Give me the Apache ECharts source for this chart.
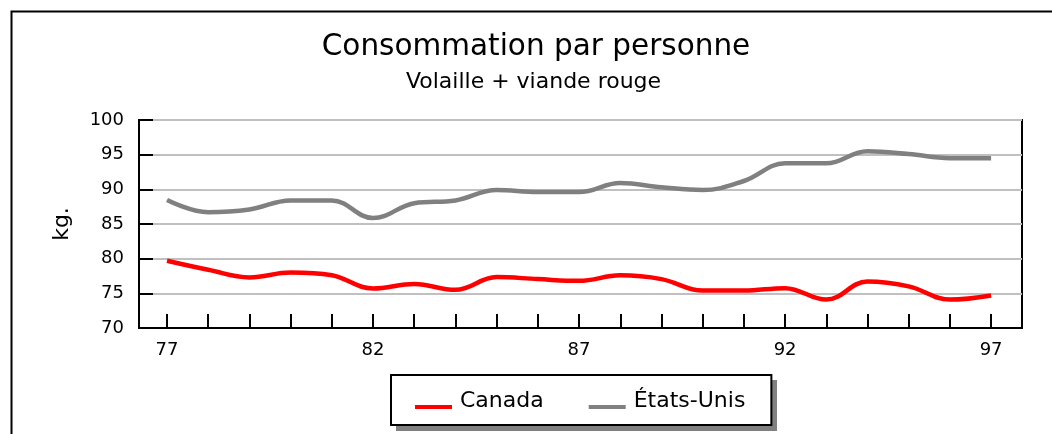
<!DOCTYPE html>
<html>
<head>
<meta charset="utf-8">
<script src="https://cdn.jsdelivr.net/npm/echarts@6/dist/echarts.min.js"></script>
<style>
html,body{margin:0;padding:0;background:#fff;}
#chart{width:1052px;height:434px;}
</style>
</head>
<body>
<div id="chart"></div>
<script>
const years = [77,78,79,80,81,82,83,84,85,86,87,88,89,90,91,92,93,94,95,96,97];
const canada = [79.7,78.4,77.3,78.0,77.6,75.7,76.35,75.5,77.35,77.05,76.8,77.6,77.05,75.4,75.4,75.75,74.1,76.7,76.0,74.1,74.7];
const etatsUnis = [88.45,86.7,87.1,88.4,88.4,85.85,88.0,88.4,89.9,89.6,89.6,90.9,90.3,89.9,91.2,93.75,93.75,95.5,95.1,94.5,94.5];
const xLabelYears = [77,82,87,92,97];
const seriesNames = ['Canada','États-Unis'];
const titleText = 'Consommation par personne';
const subtitleText = 'Volaille + viande rouge';
const yAxisName = 'kg.';

const FONT = 'DejaVu Sans';
const chart = echarts.init(document.getElementById('chart'), null, {renderer:'canvas'});
const option = {
  backgroundColor: '#fff',
  animation: false,
  graphic: [
    {type: 'rect', left: 9, top: 9, z: -10,
     shape: {x: 0, y: 0, width: 1200, height: 600},
     style: {fill: 'none', stroke: '#000', lineWidth: 2}},
    {type: 'rect', left: 396, top: 380, z: 1,
     shape: {x: 0, y: 0, width: 381, height: 51},
     style: {fill: '#808080'}}
  ],
  title: [
    {text: titleText, left: 536, top: 32, padding: 0, textAlign: 'center',
     textStyle: {fontFamily: FONT, fontSize: 29.5, fontWeight: 'normal', color: '#000'}},
    {text: subtitleText, left: 533.5, top: 71, padding: 0, textAlign: 'center',
     textStyle: {fontFamily: FONT, fontSize: 22, fontWeight: 'normal', color: '#000'}}
  ],
  legend: {
    left: 391, top: 375, z: 5,
    padding: [15, 26, 13, 24],
    backgroundColor: '#fff',
    borderColor: '#000', borderWidth: 2,
    icon: 'path://M0,0 M0,12h37v4h-37z', itemWidth: 37, itemHeight: 16, itemGap: 45,
    textStyle: {fontFamily: FONT, fontSize: 22, color: '#000', padding: [0, 0, 0, 3]},
    data: seriesNames
  },
  grid: {left: 139, right: 30, top: 120, bottom: 106, show: true, borderColor: '#000', borderWidth: 2, backgroundColor: 'transparent'},
  xAxis: {
    type: 'value', min: 76.32, max: 97.75,
    axisLine: {show: true, lineStyle: {color: '#000', width: 2}},
    axisTick: {show: true, inside: true, length: 14, customValues: years, lineStyle: {color: '#000', width: 2}},
    axisLabel: {customValues: xLabelYears, margin: 13, fontFamily: FONT, fontSize: 18, color: '#000', formatter: v => String(v)},
    splitLine: {show: false}
  },
  yAxis: {
    type: 'value', min: 70, max: 100, interval: 5,
    name: yAxisName, nameLocation: 'middle', nameGap: 66, nameRotate: 90,
    nameTextStyle: {fontFamily: FONT, fontSize: 22, color: '#000'},
    axisLine: {show: true, lineStyle: {color: '#000', width: 2}},
    axisTick: {show: true, inside: true, length: 14, lineStyle: {color: '#000', width: 2}},
    axisLabel: {margin: 15, fontFamily: FONT, fontSize: 18, color: '#000'},
    splitLine: {show: true, lineStyle: {color: '#c0c0c0', width: 2}}
  },
  series: [
    {name: seriesNames[0], type: 'line', smooth: 0.4, showSymbol: false, symbol: 'none',
     lineStyle: {color: '#ff0000', width: 4.5}, itemStyle: {color: '#ff0000'},
     data: years.map((y, i) => [y, canada[i]])},
    {name: seriesNames[1], type: 'line', smooth: 0.4, showSymbol: false, symbol: 'none',
     lineStyle: {color: '#808080', width: 4.5}, itemStyle: {color: '#808080'},
     data: years.map((y, i) => [y, etatsUnis[i]])}
  ]
};
chart.setOption(option);
</script>
</body>
</html>
